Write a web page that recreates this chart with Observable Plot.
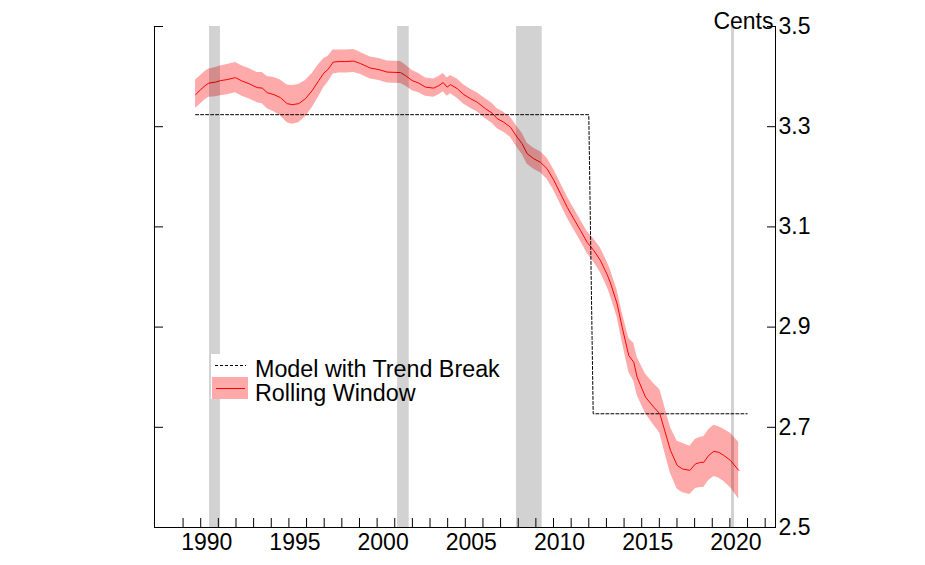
<!DOCTYPE html>
<html>
<head>
<meta charset="utf-8">
<script src="https://cdn.jsdelivr.net/npm/d3@7"></script>
<script src="https://cdn.jsdelivr.net/npm/@observablehq/plot@0.6"></script>
<style>
  html, body { margin: 0; padding: 0; background: white; }
  #wrap { position: relative; width: 925px; height: 565px; }
  #legend { position: absolute; left: 0; top: 0; pointer-events: none; }
</style>
</head>
<body>
<div id="wrap"></div>
<script>
// Rolling-window estimate (cents): year, centre, lower band, upper band
const years = [1989.71,1990.00,1990.25,1990.46,1990.84,1991.12,1991.50,1991.97,1992.35,1992.73,1993.20,1993.49,1993.77,1994.15,1994.52,1994.90,1995.19,1995.56,1995.94,1996.32,1996.69,1996.98,1997.21,1997.51,1997.83,1998.21,1998.68,1999.06,1999.62,2000.10,2000.57,2001.33,2001.61,2001.99,2002.36,2002.74,2003.21,2003.50,2003.75,2003.97,2004.16,2004.54,2004.92,2005.29,2005.67,2006.14,2006.52,2006.81,2007.18,2007.56,2007.94,2008.22,2008.51,2008.88,2009.26,2009.64,2010.02,2010.40,2010.78,2011.15,2011.53,2011.91,2012.28,2012.66,2013.04,2013.23,2013.61,2013.89,2014.27,2014.55,2014.74,2015.22,2015.69,2016.03,2016.25,2016.63,2017.01,2017.30,2017.73,2018.05,2018.33,2018.52,2018.80,2019.09,2019.37,2019.65,2020.03,2020.50];
const rollingMid = [3.364,3.374,3.382,3.387,3.389,3.392,3.394,3.398,3.391,3.386,3.378,3.377,3.368,3.364,3.358,3.346,3.344,3.346,3.356,3.372,3.392,3.407,3.414,3.429,3.430,3.430,3.431,3.426,3.417,3.414,3.409,3.408,3.402,3.392,3.387,3.379,3.377,3.382,3.388,3.379,3.384,3.376,3.364,3.356,3.349,3.336,3.327,3.316,3.309,3.299,3.279,3.266,3.246,3.236,3.229,3.216,3.193,3.166,3.139,3.116,3.093,3.069,3.053,3.033,3.005,2.988,2.946,2.900,2.843,2.830,2.800,2.760,2.740,2.727,2.700,2.654,2.624,2.617,2.614,2.627,2.630,2.630,2.644,2.652,2.650,2.644,2.634,2.614];
const rollingLo = [3.337,3.346,3.354,3.359,3.360,3.362,3.364,3.368,3.361,3.356,3.348,3.346,3.336,3.330,3.322,3.308,3.305,3.308,3.320,3.338,3.360,3.378,3.388,3.405,3.407,3.407,3.408,3.404,3.395,3.392,3.387,3.386,3.381,3.372,3.368,3.361,3.359,3.364,3.370,3.361,3.366,3.357,3.345,3.337,3.330,3.316,3.307,3.296,3.289,3.279,3.258,3.245,3.225,3.215,3.208,3.195,3.172,3.145,3.118,3.095,3.072,3.047,3.030,3.009,2.980,2.962,2.919,2.871,2.810,2.792,2.764,2.727,2.704,2.688,2.657,2.608,2.577,2.570,2.566,2.578,2.580,2.580,2.594,2.602,2.599,2.592,2.580,2.557];
const rollingHi = [3.393,3.402,3.410,3.415,3.418,3.421,3.424,3.428,3.421,3.416,3.408,3.408,3.400,3.398,3.393,3.383,3.382,3.384,3.392,3.406,3.424,3.436,3.440,3.453,3.453,3.453,3.454,3.448,3.439,3.436,3.431,3.430,3.423,3.412,3.406,3.397,3.395,3.400,3.406,3.397,3.402,3.395,3.383,3.375,3.368,3.356,3.347,3.336,3.329,3.319,3.300,3.287,3.267,3.257,3.250,3.237,3.214,3.187,3.160,3.137,3.114,3.091,3.076,3.058,3.030,3.014,2.973,2.929,2.877,2.868,2.840,2.806,2.787,2.775,2.748,2.700,2.672,2.668,2.662,2.676,2.680,2.681,2.695,2.704,2.701,2.696,2.688,2.670];

// Model with trend break (step)
const breakYears = [1989.71, 2012.00, 2012.25, 2020.98];
const breakValues = [3.324, 3.324, 2.727, 2.727];

// Recession periods (shaded)
const recStart = [1990.50, 2001.16, 2007.90, 2020.09];
const recEnd   = [1991.12, 2001.82, 2009.36, 2020.26];

// Axis ticks
const yTicks = [2.5, 2.7, 2.9, 3.1, 3.3, 3.5];
const xTickYears = d3.range(1989, 2023);
const xLabelYears = [1990, 1995, 2000, 2005, 2010, 2015, 2020];
const xDomain = [1987.38, 2022.585];
const yDomain = [2.5, 3.5];

const rolling = years.map((y, i) => ({year: y, mid: rollingMid[i], lo: rollingLo[i], hi: rollingHi[i]}));
const breakLine = breakYears.map((y, i) => ({year: y, value: breakValues[i]}));
const recessions = recStart.map((s, i) => ({start: s, end: recEnd[i]}));

const font = "'Liberation Sans', Arial, Helvetica, sans-serif";

const chart = Plot.plot({
  width: 925,
  height: 565,
  marginLeft: 154,
  marginRight: 150,
  marginTop: 26,
  marginBottom: 38,
  x: {domain: xDomain},
  y: {domain: yDomain},
  style: {fontFamily: font, fontSize: "23px", background: "white", color: "black", overflow: "visible"},
  marks: [
    Plot.areaY(rolling, {x: "year", y1: "lo", y2: "hi", fill: "#ffaaaa", curve: "linear"}),
    Plot.line(rolling, {x: "year", y: "mid", stroke: "#ff0000", strokeWidth: 1}),
    Plot.line(breakLine, {x: "year", y: "value", stroke: "black", strokeWidth: 1, strokeDasharray: "3,2"}),
    Plot.rect(recessions, {x1: "start", x2: "end", fill: "black", fillOpacity: 0.176}),
    Plot.ruleX([xDomain[0]], {stroke: "black", strokeWidth: 1}),
    Plot.ruleX([xDomain[1]], {stroke: "black", strokeWidth: 1}),
    Plot.ruleY([yDomain[0]], {stroke: "black", strokeWidth: 1}),
    Plot.axisY({anchor: "left", ticks: yTicks, tickSize: -9, tickFormat: () => "", label: null}),
    Plot.axisY({anchor: "right", ticks: yTicks, tickSize: -9, tickFormat: () => "", label: null}),
    Plot.axisY({anchor: "right", ticks: yTicks, tickSize: 0, tickPadding: 3, tickFormat: d3.format(".1f"), label: null, fontSize: 23}),
    Plot.axisX({ticks: xTickYears, tickSize: -9, tickFormat: () => "", label: null}),
    Plot.axisX({ticks: xLabelYears, tickSize: 0, tickPadding: 6, dx: 6, tickFormat: d => String(d), label: null, fontSize: 23}),
    Plot.text(["Cents"], {frameAnchor: "top-right", textAnchor: "end", lineAnchor: "middle", dx: -2, dy: -5, fontSize: 23, fill: "black"})
  ]
});

const wrap = document.getElementById("wrap");
wrap.appendChild(chart);

// Legend overlay
const ns = "http://www.w3.org/2000/svg";
const leg = document.createElementNS(ns, "svg");
leg.setAttribute("id", "legend");
leg.setAttribute("width", 925);
leg.setAttribute("height", 565);
leg.innerHTML = `
  <rect x="211" y="354" width="180" height="45" fill="white"/>
  <line x1="215" y1="365.5" x2="246" y2="365.5" stroke="black" stroke-width="1" stroke-dasharray="3,2"/>
  <rect x="212" y="377" width="36" height="22" fill="#ffaaaa"/>
  <line x1="216" y1="388.5" x2="245" y2="388.5" stroke="#ff0000" stroke-width="1"/>
  <text x="255" y="376.5" font-family="${font}" font-size="23.3" fill="black">Model with Trend Break</text>
  <text x="255" y="400.5" font-family="${font}" font-size="23.3" fill="black">Rolling Window</text>
`;
wrap.appendChild(leg);
</script>
</body>
</html>
